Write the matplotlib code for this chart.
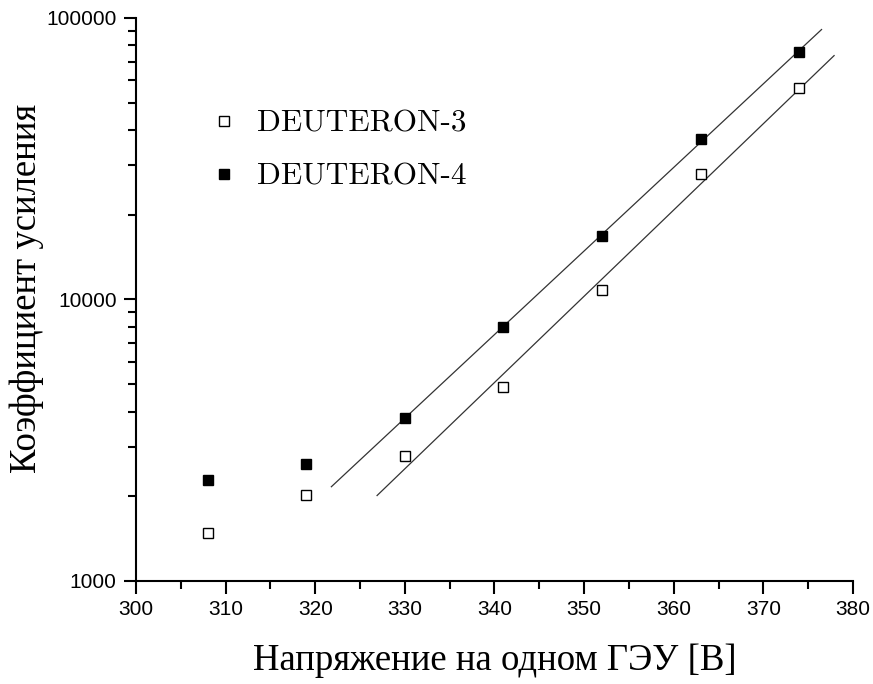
import numpy as np
import matplotlib
matplotlib.use("Agg")
import matplotlib.pyplot as plt
from matplotlib.ticker import LogLocator, MultipleLocator, NullFormatter, FixedFormatter, FixedLocator

# data
voltage = [308, 319, 330, 341, 352, 363, 374]
gain_d3 = [1480, 2020, 2780, 4890, 10800, 27900, 56400]
gain_d4 = [2290, 2600, 3800, 8000, 16800, 37200, 75700]
# fit uses points from 330 V on, line drawn over these ranges
fit_from = 330
fit_range_d3 = [326.9, 377.9]
fit_range_d4 = [321.8, 376.5]

serif = ["Liberation Serif", "DejaVu Serif"]
legend_font = ["cmr10", "Liberation Serif", "DejaVu Serif"]
sans = ["Liberation Sans", "DejaVu Sans"]

fig = plt.figure(figsize=(8.73, 6.84), dpi=100)
ax = fig.add_axes([0.1558, 0.1506, 0.977 - 0.1558, 0.9737 - 0.1506])

v = np.array(voltage)
for g, rng in [(gain_d3, fit_range_d3), (gain_d4, fit_range_d4)]:
    m = v >= fit_from
    k, b = np.polyfit(v[m], np.log10(np.array(g)[m]), 1)
    xs = np.linspace(rng[0], rng[1], 50)
    ax.plot(xs, 10 ** (k * xs + b), color="#333333", lw=0.9, zorder=1)

ax.plot(voltage, gain_d3, ls="none", marker="s", ms=7.5, mfc="white",
        mec="black", mew=1.0, label="DEUTERON-3", zorder=3)
ax.plot(voltage, gain_d4, ls="none", marker="s", ms=7.5, mfc="black",
        mec="black", mew=1.0, label="DEUTERON-4", zorder=3)

ax.set_yscale("log")
ax.set_xlim(300, 380)
ax.set_ylim(1000, 100000)
ax.xaxis.set_major_locator(MultipleLocator(10))
ax.xaxis.set_minor_locator(MultipleLocator(5))
ax.yaxis.set_major_locator(FixedLocator([1000, 10000, 100000]))
ax.yaxis.set_major_formatter(FixedFormatter(["1000", "10000", "100000"]))
ax.yaxis.set_minor_locator(LogLocator(base=10, subs=np.arange(2, 10)))
ax.yaxis.set_minor_formatter(NullFormatter())

for s in ["top", "right"]:
    ax.spines[s].set_visible(False)
for s in ["left", "bottom"]:
    ax.spines[s].set_linewidth(1.5)

ax.tick_params(which="major", direction="out", length=9, width=1.5, pad=5)
ax.tick_params(which="minor", direction="out", length=6, width=1.5)
for lab in ax.get_xticklabels() + ax.get_yticklabels():
    lab.set_family(sans)
    lab.set_fontsize(15)

ax.set_xlabel("Напряжение на одном ГЭУ [В]", family=serif, fontsize=26.5, labelpad=17)
ax.set_ylabel("Коэффициент усиления", family=serif, fontsize=26.5)
ax.yaxis.set_label_coords(-0.128, 0.52)

ax.legend(loc="upper left", bbox_to_anchor=(0.058, 0.887), frameon=False,
          prop={"family": legend_font, "size": 22.5}, handletextpad=0.45,
          labelspacing=0.8, handlelength=1.2)

fig.savefig("out.png", dpi=100)
